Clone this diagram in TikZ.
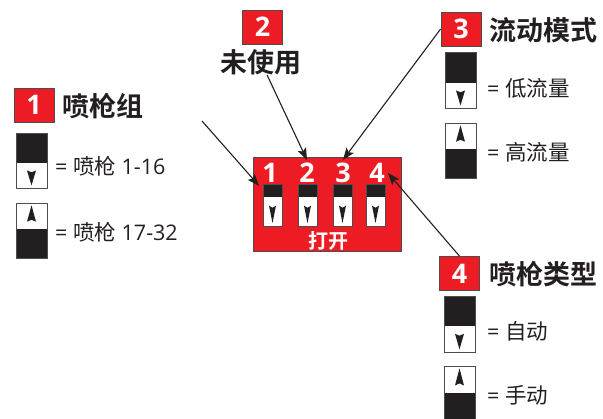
\documentclass[tikz,border=0pt]{standalone}
\usepackage{fontspec}
\setmainfont{Open Sans}
\newfontfamily\cjk{Noto Sans CJK SC}[BoldFont={Noto Sans CJK SC Bold}]
\usetikzlibrary{arrows.meta,calc}
\definecolor{boxred}{HTML}{ED1C24}
\definecolor{swdark}{HTML}{231F20}
\definecolor{txt}{HTML}{231F20}
\definecolor{framec}{HTML}{4D4D4D}
\tikzset{
 numbox/.style={draw=framec, line width=0.8pt, fill=boxred, minimum width=40pt, minimum height=34pt, inner sep=0pt, text=white, font=\fontsize{27}{27}\selectfont\bfseries},
 title/.style={inner sep=0pt, text=txt, font=\cjk\fontsize{27}{27}\selectfont\bfseries, anchor=west},
 legtxt/.style={inner sep=0pt, text=txt, font=\fontsize{21.5}{21.5}\selectfont, anchor=west},
 digit/.style={inner sep=3pt, text=white, font=\fontsize{27}{27}\selectfont\bfseries},
 pointer/.style={draw=txt, line width=1.1pt, -{Stealth[length=12pt,width=9pt,inset=2.5pt]}},
 swframe/.style={draw=framec, line width=0.6pt},
}
% x, w, ytop, ysplit, ybot, arrow width
\newcommand\swdn[6]{%
 \pgfmathsetmacro\cx{#1+#2/2}%
 \pgfmathsetmacro\at{#4+0.3*(#5-#4)}%
 \pgfmathsetmacro\ab{#4+0.9*(#5-#4)}%
 \pgfmathsetmacro\an{\at+0.12*(\ab-\at)}%
 \fill[white] (#1,#4) rectangle (#1+#2,#5);
 \fill[swdark] (#1,#3) rectangle (#1+#2,#4);
 \fill[swdark] (\cx-#6/2,\at) -- (\cx,\an) -- (\cx+#6/2,\at) -- (\cx,\ab) -- cycle;
 \draw[swframe] (#1,#3) rectangle (#1+#2,#5);
}
\newcommand\swup[6]{%
 \pgfmathsetmacro\cx{#1+#2/2}%
 \pgfmathsetmacro\at{#3+0.09*(#4-#3)}%
 \pgfmathsetmacro\ab{#3+0.72*(#4-#3)}%
 \pgfmathsetmacro\an{\ab-0.12*(\ab-\at)}%
 \fill[white] (#1,#3) rectangle (#1+#2,#4);
 \fill[swdark] (#1,#4) rectangle (#1+#2,#5);
 \fill[swdark] (\cx-#6/2,\ab) -- (\cx,\an) -- (\cx+#6/2,\ab) -- (\cx,\at) -- cycle;
 \draw[swframe] (#1,#3) rectangle (#1+#2,#5);
}
\begin{document}
\begin{tikzpicture}[x=1pt,y=-1pt]
\useasboundingbox (0,0) rectangle (603,419);
% main DIP switch block
\node[draw=framec, line width=0.6pt, fill=boxred, minimum width=148pt, minimum height=94pt, inner sep=0pt] (blk) at (327,204) {};
\swdn{263}{19}{184}{197}{226}{7}
\swdn{298}{19}{184}{197}{226}{7}
\swdn{333}{19}{184}{197}{226}{7}
\swdn{366}{19}{184}{197}{226}{7}
\node[digit] (d1) at (270,173) {1};
\node[digit] (d2) at (307,173) {2};
\node[digit] (d3) at (343,173) {3};
\node[digit] (d4) at (377,173) {4};
\node[inner sep=0pt, text=white, font=\cjk\fontsize{20}{20}\selectfont\bfseries] (open) at (328,241) {打开};
% section 1
\node[numbox] (n1) at (34,105) {1};
\node[title] (t1) at (62,106) {喷枪组};
\swdn{16}{31}{133}{163}{188}{9}
\swup{16}{31}{203}{229}{258}{9}
\node[legtxt] (l1a) at (55,166) {= {\cjk 喷枪} 1-16};
\node[legtxt] (l1b) at (55,232) {= {\cjk 喷枪} 17-32};
% section 2
\node[numbox] (n2) at (262.5,27) {2};
\node[title, anchor=center] (t2) at (261,62) {未使用};
% section 3
\node[numbox] (n3) at (461,29) {3};
\node[title] (t3) at (489,30) {流动模式};
\swdn{445}{31}{52}{83}{108}{9}
\swup{445}{31}{123}{149}{178}{9}
\node[legtxt] (l3a) at (487,88) {= {\cjk 低流量}};
\node[legtxt] (l3b) at (487,152) {= {\cjk 高流量}};
% section 4
\node[numbox] (n4) at (459.5,273.5) {4};
\node[title] (t4) at (489,274) {喷枪类型};
\swdn{444}{31}{296}{326}{352}{9}
\swup{444}{31}{366}{393}{421}{9}
\node[legtxt] (l4a) at (487,331) {= {\cjk 自动}};
\node[legtxt] (l4b) at (487,395) {= {\cjk 手动}};
% pointers
\coordinate (a1) at (202,121);
\draw[pointer] (a1) -- (d1.south west);
\draw[pointer] (t2.-65) -- (d2.north);
\draw[pointer] (n3.west) -- (d3.north);
\draw[pointer] (n4.north) -- (d4.east);
\end{tikzpicture}
\end{document}
